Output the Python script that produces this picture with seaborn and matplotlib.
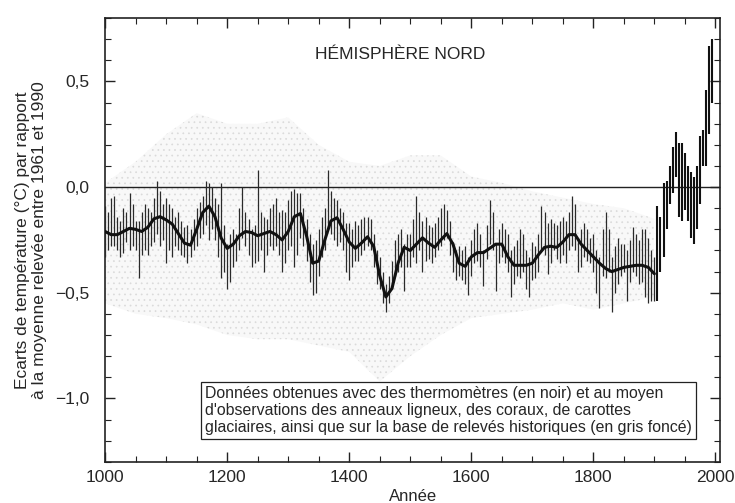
import numpy as np
import matplotlib
matplotlib.use("Agg")
import matplotlib.pyplot as plt
import seaborn as sns
from matplotlib.ticker import MultipleLocator

sns.set_theme(style="ticks")
plt.rcParams['font.family'] = ['Liberation Sans', 'DejaVu Sans']
plt.rcParams['hatch.linewidth'] = 0.5

# lissage (courbe noire épaisse), une valeur par décennie 1000-1900
smooth_years = list(range(1000, 1901, 10))
smooth_vals = [
    -0.21, -0.225, -0.225, -0.21, -0.195, -0.20, -0.21, -0.19, -0.15, -0.14,
    -0.155, -0.175, -0.22, -0.265, -0.275, -0.20, -0.12, -0.09, -0.14, -0.24,
    -0.29, -0.27, -0.23, -0.21, -0.215, -0.23, -0.22, -0.21, -0.225, -0.25,
    -0.21, -0.14, -0.125, -0.23, -0.36, -0.35, -0.25, -0.16, -0.145, -0.20,
    -0.26, -0.29, -0.265, -0.235, -0.28, -0.42, -0.52, -0.48, -0.36, -0.285,
    -0.30, -0.27, -0.24, -0.265, -0.285, -0.25, -0.22, -0.27, -0.36, -0.375,
    -0.33, -0.31, -0.31, -0.29, -0.27, -0.27, -0.33, -0.37, -0.37, -0.37,
    -0.36, -0.32, -0.285, -0.28, -0.285, -0.26, -0.225, -0.225, -0.27, -0.30,
    -0.33, -0.36, -0.385, -0.40, -0.39, -0.38, -0.375, -0.37, -0.37, -0.38,
    -0.41,
]

# valeurs annuelles : étendue (min / max) par tranche de 5 ans
stroke_years = list(range(1000, 2000, 5))
stroke_high = [
    -0.09, -0.12, -0.05, -0.04, -0.14, -0.16, -0.10, -0.12, -0.03, -0.08,
    -0.16, -0.16, -0.12, -0.08, -0.10, -0.12, -0.05, 0.03, -0.02, -0.08,
    -0.05, -0.08, -0.10, -0.14, -0.12, -0.16, -0.19, -0.18, -0.20, -0.15,
    -0.10, -0.07, -0.04, 0.03, 0.02, 0.00, -0.05, -0.08, 0.02, -0.18,
    -0.27, -0.22, -0.20, -0.22, -0.10, 0.00, -0.12, -0.15, -0.20, -0.18,
    0.08, -0.12, -0.14, -0.15, -0.10, -0.08, -0.05, -0.12, -0.11, -0.12,
    -0.06, -0.02, -0.01, -0.03, -0.03, -0.10, -0.15, -0.22, -0.27, -0.25,
    -0.20, -0.14, -0.10, 0.08, -0.02, -0.05, -0.06, -0.10, -0.12, -0.17,
    -0.17, -0.20, -0.16, -0.18, -0.15, -0.14, -0.14, -0.15, -0.22, -0.30,
    -0.33, -0.40, -0.46, -0.42, -0.35, -0.25, -0.22, -0.20, -0.27, -0.22,
    -0.22, -0.15, -0.04, -0.12, -0.16, -0.14, -0.18, -0.19, -0.17, -0.14,
    -0.10, -0.08, -0.11, -0.16, -0.26, -0.30, -0.28, -0.30, -0.28, -0.33,
    -0.25, -0.20, -0.17, -0.22, -0.30, -0.18, -0.06, -0.12, -0.27, -0.20,
    -0.17, -0.20, -0.22, -0.30, -0.28, -0.25, -0.20, -0.22, -0.30, -0.33,
    -0.26, -0.28, -0.22, -0.09, -0.12, -0.17, -0.15, -0.17, -0.18, -0.16,
    -0.14, -0.16, -0.12, -0.04, -0.08, -0.24, -0.20, -0.17, -0.20, -0.24,
    -0.22, -0.30, -0.33, -0.20, -0.12, -0.20, -0.33, -0.28, -0.24, -0.27,
    -0.27, -0.30, -0.25, -0.19, -0.22, -0.25, -0.20, -0.20, -0.24, -0.30,
    -0.33, -0.09, -0.14, 0.02, 0.03, 0.10, 0.19, 0.26, 0.21, 0.21,
    0.16, 0.10, 0.07, 0.05, 0.10, 0.24, 0.27, 0.46, 0.67, 0.70,
]
stroke_low = [
    -0.33, -0.30, -0.28, -0.28, -0.30, -0.33, -0.31, -0.26, -0.30, -0.28,
    -0.30, -0.43, -0.32, -0.30, -0.32, -0.28, -0.26, -0.22, -0.28, -0.25,
    -0.36, -0.30, -0.33, -0.28, -0.30, -0.32, -0.33, -0.36, -0.33, -0.30,
    -0.28, -0.24, -0.22, -0.18, -0.25, -0.20, -0.25, -0.33, -0.43, -0.40,
    -0.48, -0.45, -0.38, -0.35, -0.30, -0.24, -0.28, -0.32, -0.38, -0.36,
    -0.35, -0.30, -0.40, -0.32, -0.28, -0.30, -0.28, -0.32, -0.40, -0.36,
    -0.30, -0.28, -0.38, -0.32, -0.24, -0.28, -0.35, -0.45, -0.51, -0.50,
    -0.42, -0.33, -0.30, -0.20, -0.22, -0.25, -0.28, -0.26, -0.30, -0.40,
    -0.44, -0.38, -0.35, -0.35, -0.32, -0.30, -0.28, -0.30, -0.38, -0.46,
    -0.48, -0.55, -0.59, -0.55, -0.48, -0.42, -0.40, -0.38, -0.49, -0.38,
    -0.38, -0.33, -0.36, -0.30, -0.40, -0.35, -0.34, -0.36, -0.33, -0.30,
    -0.28, -0.25, -0.24, -0.32, -0.40, -0.44, -0.42, -0.44, -0.46, -0.51,
    -0.42, -0.36, -0.35, -0.38, -0.47, -0.34, -0.27, -0.30, -0.49, -0.36,
    -0.33, -0.36, -0.40, -0.52, -0.46, -0.42, -0.43, -0.40, -0.48, -0.52,
    -0.44, -0.43, -0.40, -0.30, -0.32, -0.41, -0.36, -0.30, -0.34, -0.36,
    -0.32, -0.36, -0.30, -0.28, -0.30, -0.40, -0.38, -0.33, -0.35, -0.36,
    -0.40, -0.50, -0.57, -0.42, -0.43, -0.40, -0.59, -0.50, -0.46, -0.42,
    -0.40, -0.54, -0.45, -0.40, -0.42, -0.46, -0.45, -0.52, -0.55, -0.54,
    -0.54, -0.54, -0.40, -0.33, -0.20, -0.08, -0.03, 0.05, -0.14, -0.16,
    -0.11, -0.16, -0.24, -0.27, -0.20, -0.08, 0.10, 0.10, 0.25, 0.40,
]

# enveloppe grise (incertitude), tous les 50 ans
grey_years = list(range(1000, 1901, 50))
grey_high = [0.02, 0.12, 0.25, 0.35, 0.30, 0.30, 0.33, 0.20, 0.12, 0.10,
             0.15, 0.15, 0.05, 0.02, -0.02, -0.05, -0.08, -0.10, -0.15]
grey_low = [-0.55, -0.60, -0.62, -0.65, -0.70, -0.72, -0.72, -0.75, -0.78, -0.92,
            -0.80, -0.70, -0.62, -0.60, -0.58, -0.55, -0.58, -0.55, -0.52]

fig = plt.figure(figsize=(7.35, 5.03), dpi=100)
ax = fig.add_axes([0.143, 0.082, 0.837, 0.882])

ax.fill_between(grey_years, grey_low, grey_high, facecolor='#f8f8f8',
                edgecolor='#dadada', hatch='...', linewidth=0, zorder=1)
ax.axhline(0, color='#222222', lw=1.0, zorder=2)

# période des thermomètres (après 1900) tracée plus épaisse
n_proxy = stroke_years.index(1905)
ax.vlines(stroke_years[:n_proxy], stroke_low[:n_proxy], stroke_high[:n_proxy],
          color='#2a2a2a', lw=0.9, zorder=3)
ax.vlines(stroke_years[n_proxy:], stroke_low[n_proxy:], stroke_high[n_proxy:],
          color='#111111', lw=1.5, zorder=3)
sns.lineplot(x=smooth_years, y=smooth_vals, ax=ax, color='#111111', lw=2.2, zorder=4)

ax.set_xlim(1000, 2008)
ax.set_ylim(-1.3, 0.8)
ax.set_xticks([1000, 1200, 1400, 1600, 1800, 2000])
ax.xaxis.set_minor_locator(MultipleLocator(50))
ax.set_yticks([-1.0, -0.5, 0.0, 0.5])
ax.set_yticklabels(['\u22121,0', '\u22120,5', '0,0', '0,5'])
ax.yaxis.set_minor_locator(MultipleLocator(0.1))
ax.tick_params(which='both', direction='in', top=True, right=True, color='#222222')
ax.tick_params(which='major', length=7, width=1.0, labelsize=12.5, pad=6)
ax.tick_params(axis='y', which='major', pad=11)
ax.tick_params(which='minor', length=4, width=0.8)
for s in ax.spines.values():
    s.set_color('#222222')
    s.set_linewidth(1.2)

ax.set_xlabel('Année', fontsize=12, labelpad=3)
ax.set_ylabel('Ecarts de température (°C) par rapport\nà la moyenne relevée entre 1961 et 1990',
              fontsize=12.5, labelpad=6)

ax.text(0.479, 0.917, 'HÉMISPHÈRE NORD', transform=ax.transAxes,
        ha='center', va='center', fontsize=12.5)
ax.text(0.163, 0.115,
        "Données obtenues avec des thermomètres (en noir) et au moyen\n"
        "d'observations des anneaux ligneux, des coraux, de carottes\n"
        "glaciaires, ainsi que sur la base de relevés historiques (en gris foncé)",
        transform=ax.transAxes, ha='left', va='center', fontsize=11.4, linespacing=1.15,
        bbox=dict(boxstyle='square,pad=0.25', facecolor='white', edgecolor='#222222', lw=0.9),
        zorder=6)

fig.savefig('out.png', dpi=100)
